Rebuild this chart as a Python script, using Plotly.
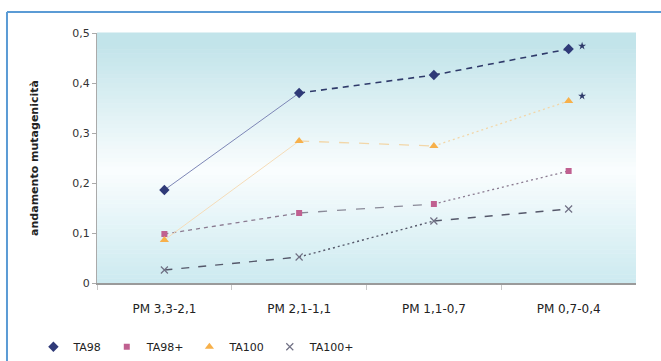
import plotly.graph_objects as go

categories = ["PM 3,3-2,1", "PM 2,1-1,1", "PM 1,1-0,7", "PM 0,7-0,4"]
ta98 = [0.186, 0.380, 0.416, 0.468]
ta98_plus = [0.098, 0.140, 0.158, 0.224]
ta100 = [0.086, 0.284, 0.274, 0.364]
ta100_plus = [0.026, 0.052, 0.124, 0.148]
extra_x = [3.1, 3.1]
extra_y = [0.474, 0.374]
y_ticks = [0, 0.1, 0.2, 0.3, 0.4, 0.5]
y_ticklabels = ["0", "0,1", "0,2", "0,3", "0,4", "0,5"]

xs = list(range(len(categories)))

series = [
    dict(name="TA98", y=ta98, mcolor="#2f3a78", symbol="diamond", msize=8,
         segs=[("solid", "#7d86b6", 1), ("6px,5px", "#2f3a6a", 1.6), ("6px,5px", "#2f3a6a", 1.6)]),
    dict(name="TA98+", y=ta98_plus, mcolor="#c06090", symbol="square", msize=6,
         segs=[("4px,4px", "#8a7a90", 1.3), ("9px,10px", "#8a8a98", 1.3), ("2px,3px", "#8a7a90", 1.3)]),
    dict(name="TA100", y=ta100, mcolor="#f7b04a", symbol="triangle-up", msize=8,
         segs=[("solid", "#f5dcb8", 1), ("10px,10px", "#f2d6a8", 1.3), ("2px,3px", "#f2d6a8", 1.3)]),
    dict(name="TA100+", y=ta100_plus, mcolor="#707084", symbol="x-thin-open", msize=7,
         segs=[("8px,9px", "#55586a", 1.4), ("2px,3px", "#55586a", 1.4), ("8px,9px", "#55586a", 1.4)]),
]

fig = go.Figure()

# gradient background of plot area
n = 60
def mix(c1, c2, t):
    return "rgb(%d,%d,%d)" % tuple(round(a + (b - a) * t) for a, b in zip(c1, c2))
top_c = (194, 228, 234)
mid_c = (250, 253, 254)
bot_c = (204, 234, 240)
shapes = []
for i in range(n):
    f0 = i / n
    f1 = (i + 1) / n
    fc = (f0 + f1) / 2
    if fc < 0.45:
        col = mix(bot_c, mid_c, fc / 0.45)
    else:
        col = mix(mid_c, top_c, min(1, (fc - 0.45) / 0.5))
    shapes.append(dict(type="rect", xref="x domain", yref="y domain", x0=0, x1=1,
                       y0=f0, y1=f1 + 0.002, fillcolor=col, line=dict(width=0), layer="below"))

# outer blue frame (left and top edges)
shapes.append(dict(type="line", xref="paper", yref="paper", x0=-0.167, x1=-0.167,
                   y0=-0.5, y1=1.084, line=dict(color="#5b9bd5", width=2)))
shapes.append(dict(type="line", xref="paper", yref="paper", x0=-0.167, x1=1.2,
                   y0=1.084, y1=1.084, line=dict(color="#5b9bd5", width=2)))

for s in series:
    for i, (dash, col, w) in enumerate(s["segs"]):
        fig.add_trace(go.Scatter(x=xs[i:i + 2], y=s["y"][i:i + 2], mode="lines",
                                 line=dict(color=col, width=w, dash=dash),
                                 showlegend=False, hoverinfo="skip"))

for s in series:
    fig.add_trace(go.Scatter(x=xs, y=s["y"], mode="markers", name=s["name"],
                             marker=dict(color=s["mcolor"], symbol=s["symbol"], size=s["msize"],
                                         line=dict(color=s["mcolor"], width=1.2 if "open" in s["symbol"] else 0))))

fig.add_trace(go.Scatter(x=extra_x, y=extra_y, mode="markers", showlegend=False,
                         marker=dict(color="#2f3a6a", symbol="star", size=6)))

fig.update_layout(
    width=661, height=361,
    margin=dict(l=97, r=25, t=33, b=78, autoexpand=False),
    paper_bgcolor="white", plot_bgcolor="white",
    font=dict(family="DejaVu Sans, Arial, sans-serif", color="#222222", size=11),
    shapes=shapes,
    showlegend=True,
    legend=dict(orientation="h", x=-0.118, y=-0.255, xanchor="left", yanchor="middle",
                font=dict(size=11, color="#222222"), bgcolor="rgba(0,0,0,0)",
                itemwidth=30, tracegroupgap=0),
    xaxis=dict(range=[-0.5, 3.5], tickmode="array", tickvals=xs, ticktext=categories,
               ticks="", showline=True, linecolor="#9a9a9a", linewidth=1.5, showgrid=False,
               zeroline=False, tickfont=dict(size=12, color="#222222"), ticklabelstandoff=14,
               automargin=False,
               minor=dict(tickvals=[-0.5, 0.5, 1.5, 2.5], ticks="outside", ticklen=5,
                          tickcolor="#c8c8c8", showgrid=False)),
    yaxis=dict(range=[0, 0.5], tickmode="array", tickvals=y_ticks, ticktext=y_ticklabels,
               ticks="outside", ticklen=4, tickcolor="#aaaaaa", showline=True,
               linecolor="#aaaaaa", linewidth=1, showgrid=False, zeroline=False,
               tickfont=dict(size=11, color="#333333"), automargin=False,
               title=dict(text="<b>andamento mutagenicità</b>", font=dict(size=11, color="#222222"),
                          standoff=31)),
)

fig.write_html("out.html", config={"displayModeBar": False},
               post_script="document.body.style.margin='0';")
